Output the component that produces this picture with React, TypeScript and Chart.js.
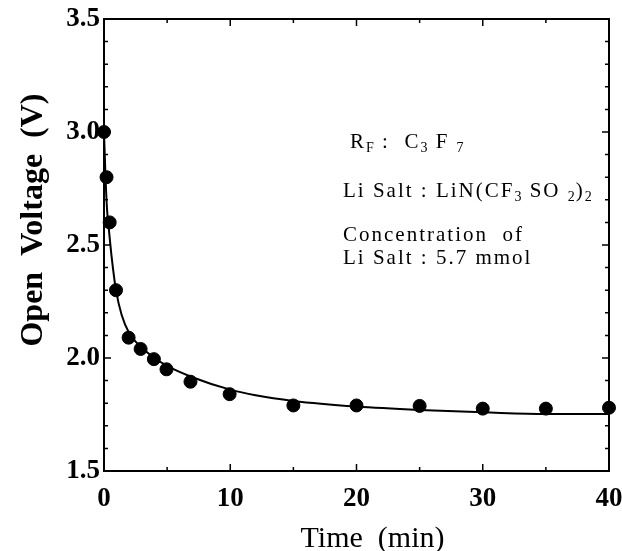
import React, { useEffect, useRef } from "react";
import { Chart, registerables } from "chart.js";

Chart.register(...registerables);

// Measured points (time in min, open voltage in V)
const pointTimes = [0, 0.2, 0.45, 0.95, 1.95, 2.9, 3.95, 4.95, 6.85, 9.95, 15, 20, 25, 30, 35, 40];
const pointVolts = [3.0, 2.8, 2.6, 2.3, 2.09, 2.04, 1.995, 1.95, 1.895, 1.84, 1.79, 1.79, 1.788, 1.776, 1.776, 1.78];

// Fitted curve
const fitTimes = [0, 0.12, 0.25, 0.35, 0.6, 0.95, 1.4, 2, 3, 4, 5, 7, 10, 12, 15, 20, 25, 30, 35, 40];
const fitVolts = [3.0, 2.8, 2.65, 2.59, 2.45, 2.3, 2.19, 2.11, 2.045, 2.0, 1.965, 1.915, 1.86, 1.835, 1.81, 1.785, 1.77, 1.76, 1.752, 1.752];

const xTickLabels = [0, 10, 20, 30, 40];
const yTickLabels = [1.5, 2.0, 2.5, 3.0, 3.5];

const xTitle = "Time  (min)";
const yTitle = "Open  Voltage  (V)";

// annotation lines: [text, isSubscript]
const noteLines: [string, boolean][][] = [
  [["R", false], ["F", true], [" :  C", false], ["3", true], [" F ", false], ["7", true]],
  [["Li Salt : LiN(CF", false], ["3", true], [" SO ", false], ["2", true], [")", false], ["2", true]],
  [["Concentration  of", false]],
  [["Li Salt : 5.7 mmol", false]],
];

const SERIF = '"Liberation Serif", "Times New Roman", serif';

const framePlugin = {
  id: "frame",
  beforeDatasetsDraw(chart: any) {
    const { ctx, chartArea: a, scales } = chart;
    const x = scales.x;
    const y = scales.y;
    ctx.save();
    ctx.strokeStyle = "#000";
    ctx.lineWidth = 2;
    ctx.strokeRect(a.left, a.top, a.right - a.left, a.bottom - a.top);
    ctx.lineWidth = 1.5;
    ctx.beginPath();
    for (let i = 0; i <= 8; i++) {
      const v = i * 5;
      const px = x.getPixelForValue(v);
      const len = i % 2 === 0 ? 7 : 4;
      ctx.moveTo(px, a.bottom);
      ctx.lineTo(px, a.bottom - len);
      ctx.moveTo(px, a.top);
      ctx.lineTo(px, a.top + len);
    }
    for (let i = 0; i <= 20; i++) {
      const v = 1.5 + i * 0.1;
      const py = y.getPixelForValue(v);
      const len = i % 5 === 0 ? 7 : 4;
      ctx.moveTo(a.left, py);
      ctx.lineTo(a.left + len, py);
      ctx.moveTo(a.right, py);
      ctx.lineTo(a.right - len, py);
    }
    ctx.stroke();
    ctx.restore();
  },
  afterDraw(chart: any) {
    const { ctx, chartArea: a } = chart;
    ctx.save();
    ctx.fillStyle = "#000";
    // x title
    ctx.font = `30px ${SERIF}`;
    ctx.textAlign = "center";
    ctx.textBaseline = "alphabetic";
    ctx.fillText(xTitle, (a.left + a.right) / 2 + 16, 547);
    // y title
    ctx.save();
    ctx.translate(42, 220);
    ctx.rotate(-Math.PI / 2);
    ctx.font = `bold 32px ${SERIF}`;
    ctx.textAlign = "center";
    ctx.fillText(yTitle, 0, 0);
    ctx.restore();
    // notes
    const starts = [350, 343, 343, 343];
    const baselines = [148, 197, 241, 264];
    ctx.textAlign = "left";
    noteLines.forEach((segs, li) => {
      let cx = starts[li];
      segs.forEach(([t, sub]) => {
        ctx.font = sub ? `14px ${SERIF}` : `21px ${SERIF}`;
        (ctx as any).letterSpacing = sub ? "1px" : "2px";
        const yy = baselines[li] + (sub ? 4 : 0);
        ctx.fillText(t, cx, yy);
        cx += ctx.measureText(t).width;
      });
    });
    ctx.restore();
  },
};

export default function App() {
  const ref = useRef<HTMLCanvasElement | null>(null);
  useEffect(() => {
    if (!ref.current) return;
    const chart = new Chart(ref.current, {
      type: "scatter",
      data: {
        datasets: [
          {
            type: "scatter",
            data: pointTimes.map((t, i) => ({ x: t, y: pointVolts[i] })),
            backgroundColor: "#000",
            borderColor: "#000",
            pointRadius: 6.5,
            pointHoverRadius: 6.5,
            clip: false as any,
            order: 0,
          },
          {
            type: "line",
            data: fitTimes.map((t, i) => ({ x: t, y: fitVolts[i] })),
            borderColor: "#000",
            borderWidth: 2,
            pointRadius: 0,
            fill: false,
            cubicInterpolationMode: "monotone",
            clip: false as any,
            order: 1,
          } as any,
        ],
      },
      options: {
        animation: false,
        responsive: true,
        maintainAspectRatio: false,
        layout: { padding: { top: 19, right: 13, left: 0, bottom: 0 } },
        plugins: { legend: { display: false }, tooltip: { enabled: false } },
        scales: {
          x: {
            type: "linear",
            min: 0,
            max: 40,
            afterBuildTicks: (s: any) => {
              s.ticks = xTickLabels.map((v) => ({ value: v }));
            },
            ticks: {
              color: "#000",
              font: { family: SERIF, size: 27, weight: "bold" },
              padding: 12,
              maxRotation: 0,
              callback: (v: any) => String(v),
            },
            grid: { display: false, drawTicks: false, tickLength: 0 },
            border: { display: false },
            afterFit: (s: any) => {
              s.height = 80;
              s.paddingLeft = 0;
              s.paddingRight = 0;
            },
          },
          y: {
            type: "linear",
            min: 1.5,
            max: 3.5,
            afterBuildTicks: (s: any) => {
              s.ticks = yTickLabels.map((v) => ({ value: v }));
            },
            ticks: {
              color: "#000",
              font: { family: SERIF, size: 27, weight: "bold" },
              padding: 4,
              callback: (v: any) => Number(v).toFixed(1),
            },
            grid: { display: false, drawTicks: false, tickLength: 0 },
            border: { display: false },
            afterFit: (s: any) => {
              s.width = 104;
              s.paddingTop = 0;
              s.paddingBottom = 0;
            },
          },
        },
      } as any,
      plugins: [framePlugin],
    });
    return () => chart.destroy();
  }, []);
  return (
    <div style={{ position: "fixed", left: 0, top: 0, width: 622, height: 551, background: "#fff" }}>
      <canvas ref={ref} />
    </div>
  );
}
